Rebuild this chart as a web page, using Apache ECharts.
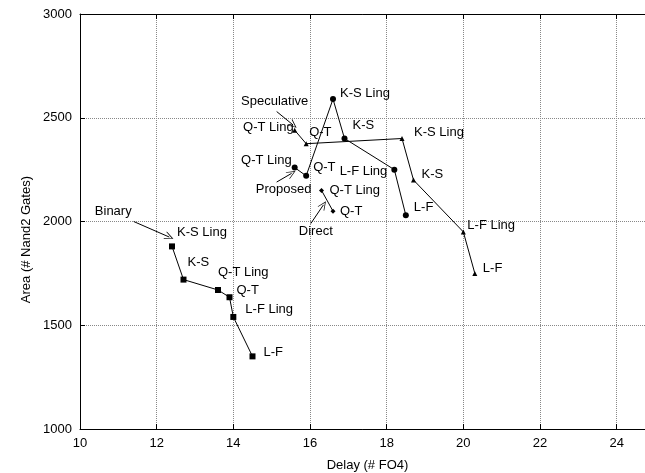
<!DOCTYPE html>
<html><head><meta charset="utf-8">
<script src="https://cdn.jsdelivr.net/npm/echarts@6/dist/echarts.min.js"></script>
<style>html,body{margin:0;padding:0;background:#fff}#c{width:645px;height:473px}</style>
</head><body><div id="c"></div>
<script>
// ---- data ----
const binaryNames = ['K-S Ling','K-S','Q-T Ling','Q-T','L-F Ling','L-F'];
const binaryX = [12.4, 12.7, 13.6, 13.9, 14.0, 14.5];
const binaryY = [1880, 1720, 1670, 1635, 1540, 1350];
const proposedNames = ['Q-T Ling','Q-T','K-S Ling','K-S','L-F Ling','L-F'];
const proposedX = [15.6, 15.9, 16.6, 16.9, 18.2, 18.5];
const proposedY = [2260, 2220, 2590, 2400, 2250, 2030];
const speculativeNames = ['Q-T Ling','Q-T','K-S Ling','K-S','L-F Ling','L-F'];
const speculativeX = [15.6, 15.9, 18.4, 18.7, 20.0, 20.3];
const speculativeY = [2440, 2375, 2400, 2200, 1950, 1750];
const directNames = ['Q-T Ling','Q-T'];
const directX = [16.3, 16.6];
const directY = [2150, 2050];
const annotationNames = ['Binary','Speculative','Proposed','Direct'];
const arrowFrom = [[11.4, 2000], [15.13, 2530], [15.13, 2190], [16.02, 1990]];
const arrowTo = [[12.33, 1925], [15.56, 2465], [15.52, 2232], [16.35, 2080]];
const xMin = 10, xMax = 25, xStep = 2;
const yMin = 1000, yMax = 3000, yStep = 500;
const xTitle = 'Delay (# FO4)';
const yTitle = 'Area (# Nand2 Gates)';

// ---- styling (label placement) ----
const FONT = 'Liberation Sans, Arial, Helvetica, sans-serif';
const labelPlace = {
  binary: [[5,-14,'left'],[4,-17,'left'],[0,-18,'left'],[7,-7,'left'],[12,-8,'left'],[11,-4,'left']],
  proposed: [[-3,-7,'right'],[7,-8,'left'],[7,-6,'left'],[8,-13,'left'],[-7,2,'right'],[8,-8,'left']],
  speculative: [[-1,-3,'right'],[3,-11,'left'],[12,-6,'left'],[8,-6,'left'],[4,-6,'left'],[8,-5,'left']],
  direct: [[8,0,'left'],[7,0,'left']]
};
const annotPlace = [[-2,-10,'right'],[-2,-10,'center'],[7,7,'center'],[5,8,'center']];

function buildData(xs, ys, names, place) {
  return xs.map((x, i) => ({
    value: [x, ys[i]],
    name: names[i],
    label: {offset: [place[i][0], place[i][1]], align: place[i][2]}
  }));
}
const labelStyle = {show: true, position: 'inside', verticalAlign: 'middle',
  formatter: p => p.name, color: '#000', fontSize: 13, fontFamily: FONT,
  textBorderWidth: 0, opacity: 1};
function lineSeries(name, xs, ys, names, place, symbol, size) {
  return {
    name, type: 'line', xAxisIndex: 0, yAxisIndex: 0,
    data: buildData(xs, ys, names, place),
    symbol, symbolSize: size, showAllSymbol: true,
    lineStyle: {color: '#000', width: 1},
    itemStyle: {color: '#000', opacity: 1},
    label: labelStyle,
    emphasis: {disabled: true},
    z: 3
  };
}
const chevron = 'path://M0,10 L5,0 L10,10 L9,10 L5,2 L1,10 Z';

const option = {
  animation: false,
  textStyle: {fontFamily: FONT},
  grid: {left: 80, top: 14, width: 575, height: 415, containLabel: false, outerBoundsMode: 'none'},
  xAxis: [{
    type: 'value', min: xMin, max: xMax, interval: xStep, position: 'bottom',
    name: xTitle, nameLocation: 'middle', nameGap: 30,
    nameTextStyle: {color: '#000', fontSize: 13, fontFamily: FONT},
    axisLine: {show: true, onZero: false, lineStyle: {color: '#000', width: 1}},
    axisTick: {show: true, inside: true, length: 5, lineStyle: {color: '#000'}},
    axisLabel: {color: '#000', fontSize: 13, margin: 8, fontFamily: FONT,
      formatter: v => (v % xStep === 0 ? String(v) : '')},
    splitLine: {show: true, lineStyle: {color: '#888', type: 'dotted', width: 1}}
  }, {
    type: 'value', min: xMin, max: xMax, interval: xStep, position: 'top',
    axisLine: {show: true, onZero: false, lineStyle: {color: '#000', width: 1}},
    axisTick: {show: true, inside: true, length: 5, lineStyle: {color: '#000'}},
    axisLabel: {show: false}, splitLine: {show: false}
  }],
  yAxis: [{
    type: 'value', min: yMin, max: yMax, interval: yStep,
    axisLine: {show: true, onZero: false, lineStyle: {color: '#000', width: 1}},
    axisTick: {show: true, inside: true, length: 5, lineStyle: {color: '#000'}},
    axisLabel: {color: '#000', fontSize: 13, margin: 8, fontFamily: FONT,
      formatter: v => String(v)},
    splitLine: {show: true, lineStyle: {color: '#888', type: 'dotted', width: 1}}
  }],
  graphic: [{
    type: 'text', left: 20, top: 176,
    style: {text: yTitle, fill: '#000', font: '13px ' + FONT},
    rotation: Math.PI / 2, originX: 0, originY: 0
  }],
  series: [
    lineSeries('Binary', binaryX, binaryY, binaryNames, labelPlace.binary, 'rect', 6),
    lineSeries('Proposed', proposedX, proposedY, proposedNames, labelPlace.proposed, 'circle', 6),
    lineSeries('Speculative', speculativeX, speculativeY, speculativeNames, labelPlace.speculative, 'triangle', 5),
    lineSeries('Direct', directX, directY, directNames, labelPlace.direct, 'diamond', 5),
    {
      name: 'annotations', type: 'scatter', xAxisIndex: 0, yAxisIndex: 0,
      symbol: 'circle', symbolSize: 1,
      itemStyle: {color: 'rgba(0,0,0,0)', opacity: 1},
      data: arrowFrom.map((p, i) => ({
        value: p, name: annotationNames[i],
        label: {offset: [annotPlace[i][0], annotPlace[i][1]], align: annotPlace[i][2]}
      })),
      label: labelStyle,
      emphasis: {disabled: true},
      z: 3,
      markLine: {
        silent: true, animation: false,
        symbol: ['none', chevron], symbolSize: [8, 9],
        lineStyle: {color: '#000', width: 1, type: 'solid', opacity: 1},
        label: {show: false},
        data: arrowFrom.map((p, i) => [{coord: p}, {coord: arrowTo[i]}])
      }
    }
  ]
};
const chart = echarts.init(document.getElementById('c'), null, {renderer: 'canvas'});
chart.setOption(option);
</script></body></html>
